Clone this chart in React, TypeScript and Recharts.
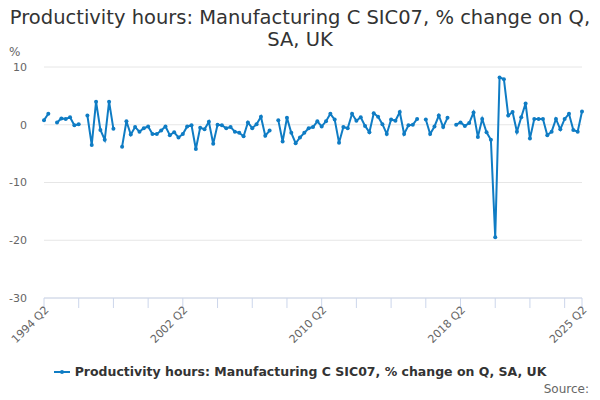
import React from 'react';
import { LineChart, Line, XAxis, YAxis, CartesianGrid } from 'recharts';

const START_YEAR = 1994;
const START_QUARTER = 2;

// % change on quarter, null where the series has no value
const values: (number | null)[] = [
  0.8, 1.9, null, 0.4, 1.1, 1.0, 1.3, -0.1, 0.1, null,
  1.6, -3.5, 4.0, -0.9, -2.6, 4.0, -0.7, null, -3.8, 0.6,
  -1.7, -0.4, -1.2, -0.6, -0.3, -1.6, -1.6, -1.0, -0.3, -1.8,
  -1.3, -2.2, -1.6, -0.3, -0.1, -4.2, -0.5, -0.8, 0.5, -3.3,
  0.0, -0.1, -0.6, -0.4, -1.2, -1.4, -2.0, 0.4, -0.6, 0.1,
  1.4, -1.9, -1.0, null, 0.8, -2.9, 1.2, -1.4, -3.2, -2.2,
  -1.4, -0.6, -0.4, 0.6, -0.3, 0.6, 1.9, 0.9, -3.1, -0.4,
  -0.6, 1.9, 0.7, 1.3, -0.2, -1.3, 2.0, 1.4, 0.1, -1.6,
  0.9, 0.7, 2.2, -1.6, -0.1, 0.0, 1.0, null, 0.9, -1.6,
  -0.3, 1.6, -0.4, 1.2, null, 0.0, 0.4, -0.2, 0.3, 2.1,
  -2.1, 1.0, -1.3, -2.6, -19.5, 8.2, 7.9, 1.6, 2.2, -1.2,
  1.3, 3.7, -2.4, 1.0, 1.0, 1.0, -1.8, -1.2, 1.0, -0.8,
  1.0, 1.9, -0.9, -1.2, 2.3,
];

const xTicks = [0, 8, 16, 24, 32, 40, 48, 56, 64, 72, 80, 88, 96, 104, 112, 120, 124];
const labelledTicks = [0, 32, 64, 96, 124];
const yTicks = [-30, -20, -10, 0, 10];

const SERIES = 'Productivity hours: Manufacturing C SIC07, % change on Q, SA, UK';
const BLUE = '#0f7cc4';
const FONT = '"DejaVu Sans", Verdana, sans-serif';

const quarterLabel = (i: number) => {
  const q = START_QUARTER - 1 + i;
  return `${START_YEAR + Math.floor(q / 4)} Q${(q % 4) + 1}`;
};

const data = values.map((v, i) => ({ i, label: quarterLabel(i), value: v }));

const XTick = (props: any) => {
  const { x, y, payload } = props;
  if (!labelledTicks.includes(payload.value)) return null;
  return (
    <g transform={`translate(${x},${y - 5})`}>
      <text
        x={0}
        y={0}
        dy="0.7em"
        textAnchor="end"
        transform="rotate(-45)"
        fill="#666"
        fontSize={11}
        fontFamily={FONT}
      >
        {quarterLabel(payload.value)}
      </text>
    </g>
  );
};

export default function App() {
  return (
    <div style={{ position: 'absolute', left: 0, top: 0, width: 600, height: 400, background: '#fff', fontFamily: FONT }}>
      <div
        style={{
          position: 'absolute',
          top: 7,
          left: 0,
          width: 600,
          textAlign: 'center',
          fontSize: 19.5,
          lineHeight: '22px',
          color: '#333',
        }}
      >
        Productivity hours: Manufacturing C SIC07, % change on Q,
        <br />
        SA, UK
      </div>
      <div style={{ position: 'absolute', left: 9, top: 45, fontSize: 12, color: '#666' }}>%</div>
      <LineChart width={600} height={400} data={data} margin={{ top: 67, right: 18, bottom: 72, left: 0 }}>
        <CartesianGrid horizontal vertical={false} stroke="#e6e6e6" />
        <XAxis
          dataKey="i"
          type="number"
          domain={[0, 124]}
          ticks={xTicks}
          interval={0}
          height={30}
          stroke="#ccd6eb"
          tickSize={10}
          tick={<XTick />}
        />
        <YAxis
          width={44}
          domain={[-30, 10]}
          ticks={yTicks}
          axisLine={false}
          tickLine={false}
          tickSize={0}
          tickMargin={17}
          tick={{ fill: '#666', fontSize: 11, fontFamily: FONT }}
        />
        <Line
          dataKey="value"
          stroke={BLUE}
          strokeWidth={2}
          dot={{ r: 2, fill: BLUE, stroke: BLUE, strokeWidth: 0 }}
          connectNulls={false}
          isAnimationActive={false}
        />
      </LineChart>
      <div
        style={{
          position: 'absolute',
          top: 364,
          left: 0,
          width: 600,
          display: 'flex',
          justifyContent: 'center',
          alignItems: 'center',
          fontSize: 12.5,
          fontWeight: 'bold',
          color: '#333',
        }}
      >
        <svg width={16} height={10} style={{ marginRight: 5 }}>
          <line x1={0} y1={5} x2={16} y2={5} stroke={BLUE} strokeWidth={2} />
          <circle cx={8} cy={5} r={2} fill={BLUE} />
        </svg>
        {SERIES}
      </div>
      <div style={{ position: 'absolute', top: 382, right: 11, fontSize: 12, color: '#666' }}>Source:</div>
    </div>
  );
}
